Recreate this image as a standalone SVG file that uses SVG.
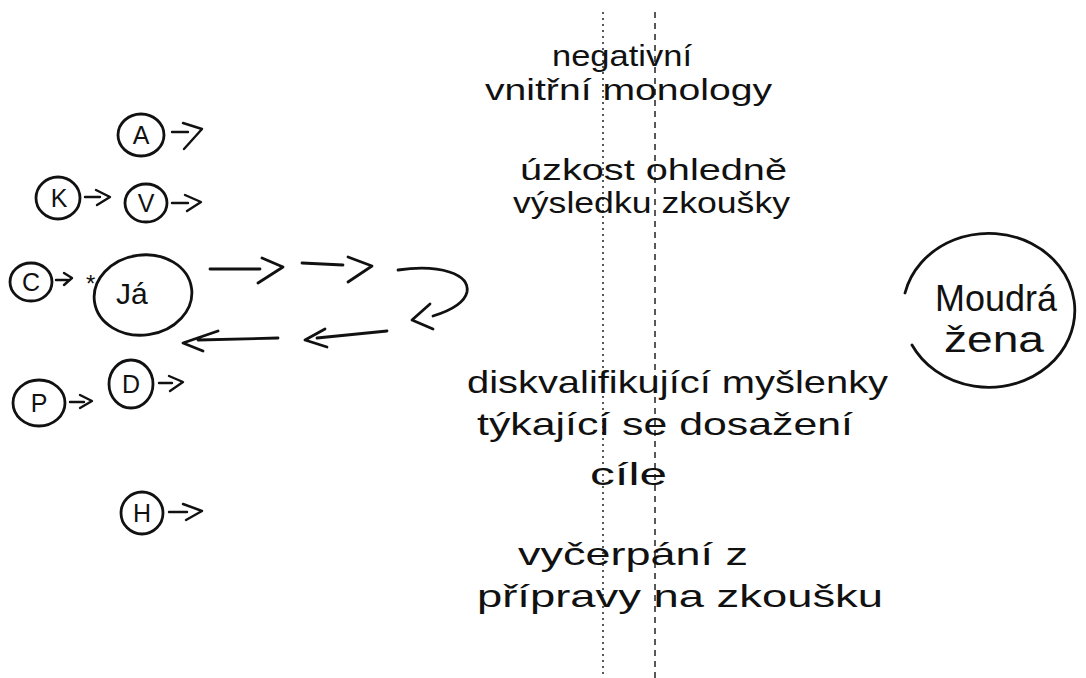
<svg xmlns="http://www.w3.org/2000/svg" width="1086" height="678" viewBox="0 0 1086 678">
<style>
.ln{fill:none;stroke:#111;stroke-width:2.8;stroke-linecap:round;stroke-linejoin:round}
.sm{fill:none;stroke:#111;stroke-width:2.4;stroke-linecap:round;stroke-linejoin:round}
.t{font-family:"Liberation Sans","DejaVu Sans",sans-serif;fill:#111}
.lt{font-size:25px;text-anchor:middle}
.mid{font-size:30px}
.big{font-size:32px}
.dl{fill:none;stroke:#222;stroke-width:1.5}
</style>
<rect width="1086" height="678" fill="#fff"/>
<g id="dividers">
<line class="dl" x1="603" y1="12" x2="603" y2="678" stroke-dasharray="2 4"/>
<line class="dl" x1="655" y1="12" x2="655" y2="678" stroke-dasharray="6 5"/>
</g>
<g id="node-A"><ellipse class="ln" cx="141" cy="135" rx="23" ry="21"/><text class="t lt" x="141" y="144">A</text></g>
<g id="node-K"><ellipse class="ln" cx="58" cy="198" rx="22" ry="21"/><text class="t lt" x="59" y="207">K</text></g>
<g id="node-V"><ellipse class="ln" cx="146" cy="203" rx="21" ry="19"/><text class="t lt" x="146" y="212">V</text></g>
<g id="node-C"><ellipse class="ln" cx="31" cy="282" rx="21" ry="19"/><text class="t lt" x="31" y="291">C</text></g>
<g id="star"><text class="t" x="86" y="292" font-size="24">*</text></g>
<g id="node-Ja"><ellipse class="ln" cx="143" cy="295" rx="49" ry="40" transform="rotate(-8 143 295)"/><text class="t" x="116" y="304" font-size="30">Já</text></g>
<g id="node-P"><ellipse class="ln" cx="39" cy="403" rx="26" ry="23"/><text class="t lt" x="39" y="412">P</text></g>
<g id="node-D"><ellipse class="ln" cx="131" cy="384" rx="22" ry="24"/><text class="t lt" x="131" y="393">D</text></g>
<g id="node-H"><ellipse class="ln" cx="142" cy="513" rx="21" ry="21"/><text class="t lt" x="142" y="522">H</text></g>
<g id="node-Moudra">
<path class="ln" d="M905,293 A86,77 0 1 1 912,345"/>
<text class="t" x="935" y="311" font-size="36" textLength="122" lengthAdjust="spacingAndGlyphs">Moudrá</text>
<text class="t" x="944" y="352" font-size="36" textLength="100" lengthAdjust="spacingAndGlyphs">žena</text>
</g>
<g id="label-1" class="t mid">
<text x="552" y="66" textLength="140" lengthAdjust="spacingAndGlyphs">negativní</text>
<text x="485" y="100" textLength="287" lengthAdjust="spacingAndGlyphs">vnitřní monology</text>
</g>
<g id="label-2" class="t mid">
<text x="520" y="180" textLength="267" lengthAdjust="spacingAndGlyphs">úzkost ohledně</text>
<text x="513" y="213" textLength="277" lengthAdjust="spacingAndGlyphs">výsledku zkoušky</text>
</g>
<g id="label-3" class="t big">
<text x="467" y="393" textLength="421" lengthAdjust="spacingAndGlyphs">diskvalifikující myšlenky</text>
<text x="477" y="435" textLength="376" lengthAdjust="spacingAndGlyphs">týkající se dosažení</text>
<text x="590" y="485" textLength="77" lengthAdjust="spacingAndGlyphs">cíle</text>
</g>
<g id="label-4" class="t big">
<text x="518" y="565" textLength="230" lengthAdjust="spacingAndGlyphs">vyčerpání z</text>
<text x="477" y="607" textLength="406" lengthAdjust="spacingAndGlyphs">přípravy na zkoušku</text>
</g>
<g id="connectors">
<path class="sm" d="M172,132 L188,132 M183,123 L202,129 L184,149"/>
<path class="sm" d="M85,197 L100,197 M96,190 L110,197 L97,205"/>
<path class="sm" d="M172,203 L188,203 M185,195 L201,202 L187,211"/>
<path class="sm" d="M56,280 L68,280 M64,273 L72,278 L64,285"/>
<path class="sm" d="M70,402 L84,402 M80,395 L92,401 L80,408"/>
<path class="sm" d="M159,383 L172,383 M169,376 L183,382 L170,391"/>
<path class="sm" d="M169,512 L187,512 M183,504 L202,511 L186,520"/>
<path class="ln" d="M210,269 L260,269 M262,258 L283,267 L258,283"/>
<path class="ln" d="M302,263 L343,265 M348,257 L372,266 L348,282"/>
<path class="ln" d="M398,270 C440,264 470,274 467,292 C464,305 446,312 433,316 M430,304 L412,320 L433,329"/>
<path class="ln" d="M387,331 L317,338 M325,329 L305,340 L327,347"/>
<path class="ln" d="M278,338 L198,340 M218,331 L183,343 L203,351"/>
</g>
</svg>
